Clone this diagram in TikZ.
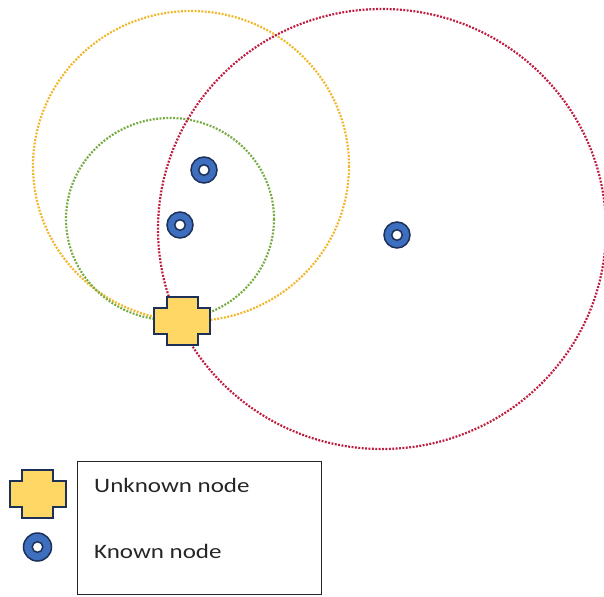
\documentclass[tikz,border=0pt]{standalone}
\usepackage{fontspec}
\newfontfamily\legendfont{Carlito}[FakeStretch=1.22]
\definecolor{rangeorange}{RGB}{242,182,40}
\definecolor{rangegreen}{RGB}{118,172,66}
\definecolor{rangered}{RGB}{192,28,64}
\definecolor{nodeblue}{RGB}{62,110,190}
\definecolor{nodenavy}{RGB}{28,48,88}
\definecolor{nodegold}{RGB}{255,215,100}
\definecolor{textgray}{RGB}{38,38,38}
\tikzset{
  rangering/.style={line width=2.2pt, dash pattern=on 1.9pt off 1.5pt},
  known/.style={circle, draw=nodenavy, line width=1.5pt, fill=nodeblue,
    minimum size=26pt, inner sep=0pt,
    path picture={\draw[nodenavy, line width=1.5pt, fill=white]
      (path picture bounding box.center) circle (5.3pt);}},
  unknown/.style={coordinate},
  plusmark/.pic={\draw[nodenavy, line width=2pt, fill=nodegold, line join=miter]
    (-28,-13) -- (-15.5,-13) -- (-15.5,-24) -- (15.5,-24) -- (15.5,-13) -- (28,-13)
    -- (28,13) -- (15.5,13) -- (15.5,24) -- (-15.5,24) -- (-15.5,13) -- (-28,13) -- cycle;},
  legendtext/.style={anchor=base west, inner sep=0pt, text=textgray,
    font=\legendfont\fontsize{20.5}{24}\selectfont},
  legendbox/.style={draw=textgray, line width=1.3pt}
}
\begin{document}
\begin{tikzpicture}[x=1pt, y=-1pt]
  \useasboundingbox (0,0) rectangle (604,596);
  \clip (0,0) rectangle (604,596);

  % ranging circles around the known nodes
  \draw[rangering, rangeorange] (191,166) ellipse [x radius=158, y radius=155];
  \draw[rangering, rangegreen] (170,219) ellipse [x radius=104, y radius=101];
  \draw[rangering, rangered] (382,229) ellipse [x radius=224, y radius=220];

  % known anchor nodes
  \node[known] (k1) at (204,170) {};
  \node[known] (k2) at (180,225) {};
  \node[known] (k3) at (397,235) {};

  % unknown node at the intersection
  \node[unknown] (u) at (182,321) {};
  \pic at (u) {plusmark};

  % legend
  \node[legendbox, minimum width=244pt, minimum height=133pt, inner sep=0pt,
        anchor=north west] (box) at (77,461) {};
  \node[unknown] (lu) at (37.5,493.5) {};
  \pic at (lu) {plusmark};
  \node[known, minimum size=28pt] (lk) at (37.5,547) {};
  \node[legendtext] (tu) at (94,492) {Unknown node};
  \node[legendtext] (tk) at (94,558) {Known node};
\end{tikzpicture}
\end{document}
